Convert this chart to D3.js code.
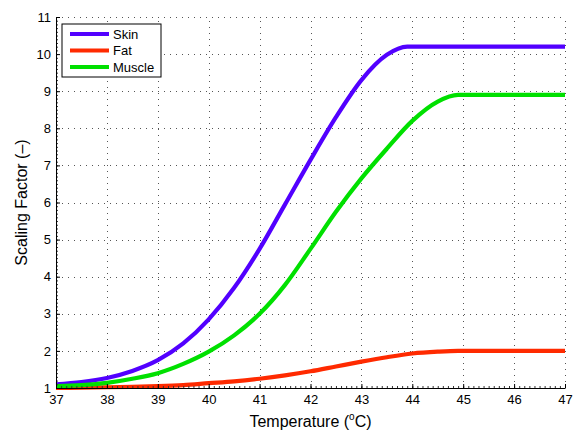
<!DOCTYPE html>
<html>
<head>
<meta charset="utf-8">
<script src="https://cdn.jsdelivr.net/npm/d3@7/dist/d3.min.js"></script>
<style>
  html, body { margin: 0; padding: 0; background: #fff; }
  svg { display: block; font-family: "Liberation Sans", Arial, Helvetica, sans-serif; }
</style>
</head>
<body>
<svg id="chart" width="580" height="430"></svg>
<script>
/* Scaling factor vs temperature: skin, fat, muscle. */

var xTicks = [37, 38, 39, 40, 41, 42, 43, 44, 45, 46, 47];
var yTicks = [1, 2, 3, 4, 5, 6, 7, 8, 9, 10, 11];

var skinTemp = [37, 37.5, 38, 38.5, 39, 39.5, 40, 40.5, 41, 41.5, 42, 42.5, 43, 43.5, 43.9, 44.5, 45, 46, 47];
var skinVal  = [1.1, 1.16, 1.27, 1.46, 1.75, 2.2, 2.85, 3.7, 4.75, 5.95, 7.15, 8.3, 9.3, 9.98, 10.2, 10.2, 10.2, 10.2, 10.2];

var fatTemp = [37, 37.5, 38, 38.5, 39, 39.5, 40, 40.5, 41, 41.5, 42, 42.5, 43, 43.5, 44, 44.5, 44.9, 46, 47];
var fatVal  = [1.0, 1.01, 1.02, 1.03, 1.05, 1.08, 1.13, 1.18, 1.25, 1.34, 1.45, 1.58, 1.71, 1.83, 1.93, 1.98, 2.0, 2.0, 2.0];

var muscleTemp = [37, 37.5, 38, 38.5, 39, 39.5, 40, 40.5, 41, 41.5, 42, 42.5, 43, 43.5, 44, 44.5, 44.9, 46, 47];
var muscleVal  = [1.05, 1.08, 1.14, 1.25, 1.4, 1.65, 1.98, 2.42, 3.0, 3.78, 4.75, 5.75, 6.65, 7.45, 8.2, 8.72, 8.9, 8.9, 8.9];

var seriesNames = ["Skin", "Fat", "Muscle"];
var seriesColors = ["#5200ff", "#ff2a00", "#00e000"];

var series = [
  { name: seriesNames[0], color: seriesColors[0], xs: skinTemp, ys: skinVal },
  { name: seriesNames[1], color: seriesColors[1], xs: fatTemp, ys: fatVal },
  { name: seriesNames[2], color: seriesColors[2], xs: muscleTemp, ys: muscleVal }
];

var plotL = 56, plotR = 565, plotT = 17, plotB = 388;

var svg = d3.select("#chart");
var x = d3.scaleLinear().domain([37, 47]).range([plotL, plotR]);
var y = d3.scaleLinear().domain([1, 11]).range([plotB, plotT]);

// dotted grid
var grid = svg.append("g").attr("stroke", "#555").attr("stroke-width", 1)
  .attr("stroke-dasharray", "1,5").attr("shape-rendering", "crispEdges");
grid.selectAll("line.v").data(xTicks).enter().append("line")
  .attr("x1", function (d) { return Math.round(x(d)) + 0.5; })
  .attr("x2", function (d) { return Math.round(x(d)) + 0.5; })
  .attr("y1", plotB).attr("y2", plotT);
grid.selectAll("line.h").data(yTicks).enter().append("line")
  .attr("x1", plotL).attr("x2", plotR)
  .attr("y1", function (d) { return Math.round(y(d)) + 0.5; })
  .attr("y2", function (d) { return Math.round(y(d)) + 0.5; });

// curves
var line = d3.line()
  .x(function (d) { return x(d[0]); })
  .y(function (d) { return y(d[1]); })
  .curve(d3.curveMonotoneX);

series.forEach(function (s) {
  var pts = s.xs.map(function (t, i) { return [t, s.ys[i]]; });
  svg.append("path").datum(pts)
    .attr("fill", "none")
    .attr("stroke", s.color)
    .attr("stroke-width", 4.2)
    .attr("stroke-linejoin", "round")
    .attr("d", line);
});

// minor ticks
var xMinor = d3.range(370, 471).map(function (v) { return v / 10; });
var yMinor = d3.range(10, 111).map(function (v) { return v / 10; });

svg.append("g").attr("transform", "translate(0," + plotB + ")")
  .call(d3.axisBottom(x).tickValues(xMinor).tickSize(-2).tickFormat(""))
  .call(function (g) { g.select(".domain").remove(); g.selectAll("line").attr("stroke", "#333"); });
svg.append("g").attr("transform", "translate(" + plotL + ",0)")
  .call(d3.axisLeft(y).tickValues(yMinor).tickSize(-2).tickFormat(""))
  .call(function (g) { g.select(".domain").remove(); g.selectAll("line").attr("stroke", "#333"); });

// major axes
var xAxis = svg.append("g").attr("transform", "translate(0," + plotB + ")")
  .call(d3.axisBottom(x).tickValues(xTicks).tickSizeInner(-4).tickSizeOuter(0).tickPadding(7));
var yAxis = svg.append("g").attr("transform", "translate(" + plotL + ",0)")
  .call(d3.axisLeft(y).tickValues(yTicks).tickSizeInner(-4).tickSizeOuter(0).tickPadding(5));

[xAxis, yAxis].forEach(function (g) {
  g.selectAll("text").attr("font-size", 13).attr("fill", "#000")
    .attr("font-family", "'Liberation Sans', Arial, sans-serif");
  g.select(".domain").attr("stroke", "#000");
  g.selectAll(".tick line").attr("stroke", "#000");
});

// axis titles
var xt = svg.append("text").attr("x", (plotL + plotR) / 2).attr("y", 427)
  .attr("text-anchor", "middle").attr("font-size", 16).attr("fill", "#000");
xt.append("tspan").text("Temperature (");
xt.append("tspan").attr("font-size", 10).attr("dy", -7).text("o");
xt.append("tspan").attr("dy", 7).text("C)");

svg.append("text")
  .attr("transform", "translate(27," + ((plotT + plotB) / 2) + ") rotate(-90)")
  .attr("text-anchor", "middle").attr("font-size", 16).attr("fill", "#000")
  .text("Scaling Factor (\u2013)");

// legend
var lg = svg.append("g").attr("transform", "translate(62,24)");
lg.append("rect").attr("width", 99).attr("height", 53)
  .attr("fill", "#fff").attr("stroke", "#000").attr("stroke-width", 1);
series.forEach(function (s, i) {
  var yy = 10 + i * 16.5;
  lg.append("line").attr("x1", 8).attr("x2", 47).attr("y1", yy).attr("y2", yy)
    .attr("stroke", s.color).attr("stroke-width", 4.2);
  lg.append("text").attr("x", 51).attr("y", yy).attr("dy", "0.36em")
    .attr("font-size", 13).attr("fill", "#000").text(s.name);
});
</script>
</body>
</html>
